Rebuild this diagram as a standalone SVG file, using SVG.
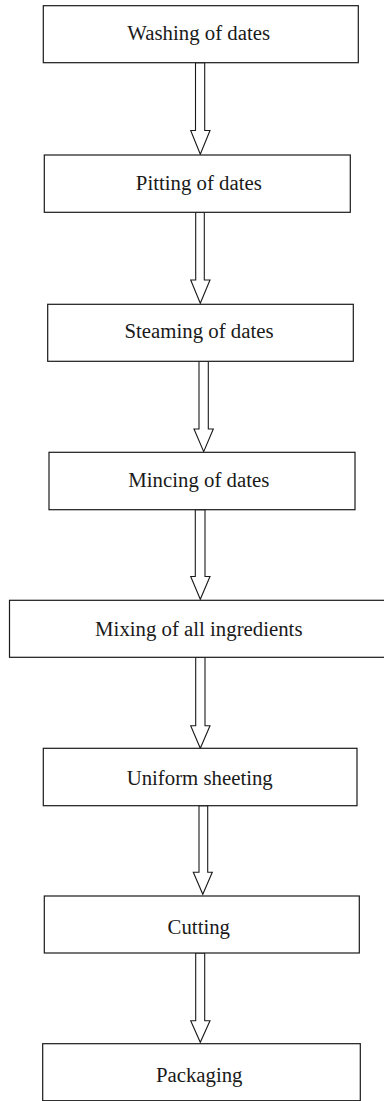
<svg xmlns="http://www.w3.org/2000/svg" width="384" height="1101" viewBox="0 0 384 1101">
<style>
.box{fill:#fff;stroke:#1a1a1a;stroke-width:1.2}
.lbl{font-family:"Liberation Serif","Times New Roman",serif;font-size:20.8px;fill:#1a1a1a;text-anchor:middle}
.arr{fill:#fff;stroke:#1a1a1a;stroke-width:1.1;stroke-linejoin:miter}
</style>
<rect width="384" height="1101" fill="#fff"/>
<g id="connectors">
<polygon class="arr" points="195.5,62.7 204.7,62.7 204.7,130.5 210,130.5 200.3,154.3 190.7,130.5 195.5,130.5"/>
<polygon class="arr" points="195.7,212.3 204.3,212.3 204.3,280 210,280 200.3,303.3 190.7,280 195.7,280"/>
<polygon class="arr" points="199,361 208.3,361 208.3,429 213.3,429 203.7,451.7 194,429 199,429"/>
<polygon class="arr" points="195.3,509.7 205,509.7 205,576.5 210,576.5 200.3,599.3 190.7,576.5 195.3,576.5"/>
<polygon class="arr" points="195.7,657.3 205,657.3 205,725.7 210,725.7 200.3,748.3 190.7,725.7 195.7,725.7"/>
<polygon class="arr" points="199,805.7 207.7,805.7 207.7,872.3 212.3,872.3 202.8,894.3 193.3,872.3 199,872.3"/>
<polygon class="arr" points="195.7,953 204.7,953 204.7,1020.7 210,1020.7 200.3,1042.3 190.7,1020.7 195.7,1020.7"/>
</g>
<g id="n1"><rect class="box" x="43.3" y="5.7" width="315" height="57"/><text class="lbl" x="198.7" y="40">Washing of dates</text></g>
<g id="n2"><rect class="box" x="44.3" y="155" width="306" height="57.3"/><text class="lbl" x="198.8" y="190">Pitting of dates</text></g>
<g id="n3"><rect class="box" x="47.7" y="304.3" width="305.6" height="57"/><text class="lbl" x="199" y="338.3">Steaming of dates</text></g>
<g id="n4"><rect class="box" x="49" y="452.3" width="306" height="57.4"/><text class="lbl" x="198.8" y="486.7">Mincing of dates</text></g>
<g id="n5"><rect class="box" x="9.5" y="600.3" width="380" height="57"/><text class="lbl" x="198.8" y="636">Mixing of all ingredients</text></g>
<g id="n6"><rect class="box" x="43.3" y="748.3" width="313.7" height="57.4"/><text class="lbl" x="199.7" y="785">Uniform sheeting</text></g>
<g id="n7"><rect class="box" x="44.3" y="896" width="315" height="57"/><text class="lbl" x="198.8" y="934">Cutting</text></g>
<g id="n8"><rect class="box" x="42.7" y="1043.7" width="317.6" height="57"/><text class="lbl" x="199.2" y="1081.7">Packaging</text></g>
</svg>
